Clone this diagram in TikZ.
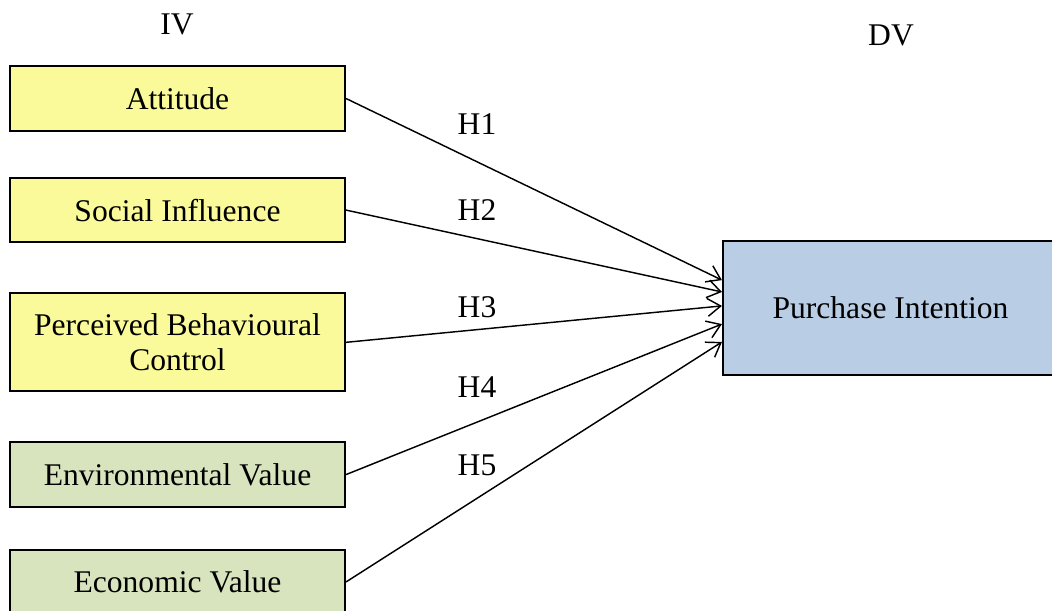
\documentclass[tikz,border=0pt]{standalone}
\usepackage{fontspec}
\setmainfont{Liberation Serif}
\usepackage{xcolor}
\usepackage{tikz}
\usetikzlibrary{arrows.meta, positioning}
\definecolor{ivyellow}{RGB}{250,250,155}
\definecolor{ivgreen}{RGB}{215,228,189}
\definecolor{dvblue}{RGB}{185,205,229}
\tikzset{
  ivbox/.style={rectangle, draw=black, line width=0.8pt, fill=ivyellow,
                minimum width=127.3pt, minimum height=24.5pt, inner sep=0pt,
                align=center, font=\fontsize{12}{13.5}\selectfont},
  valbox/.style={ivbox, fill=ivgreen},
  dvbox/.style={ivbox, fill=dvblue, minimum height=50.9pt},
  arrow/.style={-{Straight Barb[length=5pt, width=6.8pt]}, line width=0.55pt},
  hlabel/.style={font=\fontsize{12}{13.5}\selectfont, inner sep=0pt},
}
\begin{document}
\begin{tikzpicture}[x=0.38pt, y=-0.38pt]
  \clip (0,0) rectangle (1052,610);
  \node[hlabel] (iv) at (177,24) {IV};
  \node[hlabel] (dv) at (891,35) {DV};

  \node[ivbox] (atti) at (177.5,98.5) {Attitude};
  \node[ivbox, below=17.1pt of atti] (social) {Social Influence};
  \node[ivbox, below=18.6pt of social, minimum height=37.2pt] (pbc) {Perceived Behavioural\\Control};
  \node[valbox, below=18.6pt of pbc] (env) {Environmental Value};
  \node[valbox, below=15.5pt of env] (econ) {Economic Value};
  \node[dvbox] (pi) at (890.5,308) {Purchase Intention};

  \node[hlabel] (h1) at (477,124) {H1};
  \node[hlabel] (h2) at (477,210) {H2};
  \node[hlabel] (h3) at (477,307) {H3};
  \node[hlabel] (h4) at (477,387) {H4};
  \node[hlabel] (h5) at (477,465) {H5};

  \draw[arrow] (atti.east) -- ([yshift=10.6pt]pi.west);
  \draw[arrow] (social.east) -- ([yshift=6.1pt]pi.west);
  \draw[arrow] (pbc.east) -- ([yshift=0.8pt]pi.west);
  \draw[arrow] (env.east) -- ([yshift=-6.1pt]pi.west);
  \draw[arrow] (econ.east) -- ([yshift=-12.9pt]pi.west);
\end{tikzpicture}
\end{document}
